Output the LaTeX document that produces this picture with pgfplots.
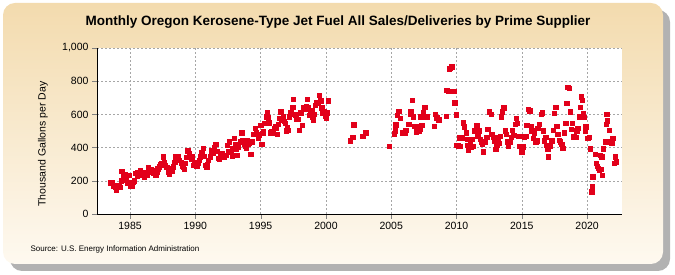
\documentclass[border=0pt]{standalone}
\usepackage{fontspec}
\setmainfont{Liberation Sans}
\usepackage{pgfplots}
\pgfplotsset{compat=1.18}

\definecolor{ptred}{RGB}{226,0,26}
\definecolor{bgtop}{RGB}{243,219,174}
\definecolor{bgbot}{RGB}{254,249,240}

\begin{document}
\begin{tikzpicture}[x=1pt,y=1pt]
\useasboundingbox (0,0) rectangle (675,275);
% frame with shadow
\fill[black!30, rounded corners=12pt] (10,4) rectangle (670,265);
\shade[top color=bgtop, bottom color=bgbot, rounded corners=12pt] (3,11) rectangle (663,272);

\node[font=\bfseries\fontsize{13.5}{15}\selectfont] at (338,253)
  {Monthly Oregon Kerosene-Type Jet Fuel All Sales/Deliveries by Prime Supplier};
\node[rotate=90, font=\fontsize{10.5}{12}\selectfont] at (43,131) {Thousand Gallons per Day};
\node[anchor=west, font=\fontsize{8}{10}\selectfont] at (27,26)
  {Source: U.S. Energy Information Administration};

\begin{axis}[
    at={(97pt,61pt)}, anchor=south west,
    scale only axis,
    width=525pt, height=166pt,
    xmin=1982.47, xmax=2022.67,
    ymin=0, ymax=1000,
    xtick={1985,1990,1995,2000,2005,2010,2015,2020},
    ytick={0,200,400,600,800,1000},
    x tick label style={/pgf/number format/1000 sep={}},
    y tick label style={/pgf/number format/1000 sep={,}},
    /pgf/number format/assume math mode=true,
    tick label style={font=\fontsize{10.5}{12}\selectfont},
    axis x line=bottom, axis y line=left,
    axis line style={-},
    tick align=outside,
    major tick length=5pt,
    grid=major,
    grid style={gray!70, dash pattern=on 2pt off 2pt},
    axis background/.style={fill=white},
    clip=false,
]
\addplot[only marks, mark=square*, mark size=2.1pt, color=ptred] table {
1983.47 189
1983.56 185
1983.64 189
1983.75 170
1983.85 161
1983.92 145
1984.05 175
1984.16 169
1984.23 161
1984.30 200
1984.36 259
1984.45 230
1984.54 215
1984.62 241
1984.72 205
1984.82 189
1984.92 233
1985.00 169
1985.08 181
1985.18 169
1985.25 190
1985.33 201
1985.44 245
1985.52 230
1985.59 253
1985.68 240
1985.77 261
1985.90 233
1986.02 241
1986.09 225
1986.18 250
1986.28 233
1986.40 281
1986.50 262
1986.61 269
1986.71 253
1986.80 245
1986.86 261
1986.97 233
1987.05 250
1987.12 273
1987.22 285
1987.30 297
1987.43 305
1987.55 345
1987.62 310
1987.68 293
1987.81 281
1987.93 253
1988.00 240
1988.06 265
1988.19 273
1988.25 260
1988.32 285
1988.42 310
1988.50 345
1988.58 330
1988.65 345
1988.75 325
1988.91 309
1989.00 290
1989.08 285
1989.15 270
1989.21 305
1989.32 340
1989.42 381
1989.52 365
1989.62 345
1989.70 330
1989.77 345
1989.88 293
1989.95 310
1990.03 305
1990.10 290
1990.18 305
1990.28 325
1990.38 345
1990.49 369
1990.61 396
1990.67 350
1990.74 295
1990.87 281
1990.93 300
1991.00 325
1991.13 345
1991.20 370
1991.26 386
1991.38 365
1991.47 400
1991.56 422
1991.64 380
1991.72 335
1991.80 330
1991.89 349
1991.95 340
1992.02 365
1992.14 355
1992.20 341
1992.35 355
1992.45 416
1992.53 380
1992.60 436
1992.71 375
1992.80 350
1992.86 396
1992.96 456
1993.05 420
1993.12 390
1993.17 355
1993.29 402
1993.42 436
1993.55 490
1993.63 446
1993.73 422
1993.80 410
1993.88 396
1993.98 446
1994.06 420
1994.13 430
1994.24 361
1994.32 436
1994.44 482
1994.57 516
1994.65 490
1994.75 482
1994.82 460
1994.90 476
1995.01 536
1995.08 422
1995.16 486
1995.22 500
1995.28 546
1995.41 586
1995.51 610
1995.60 580
1995.67 550
1995.77 490
1995.85 500
1995.93 486
1996.03 516
1996.10 530
1996.18 516
1996.28 482
1996.35 540
1996.43 576
1996.54 616
1996.62 566
1996.74 586
1996.80 560
1996.87 546
1996.94 502
1997.04 520
1997.12 506
1997.20 586
1997.30 610
1997.38 600
1997.46 643
1997.50 691
1997.63 596
1997.70 600
1997.76 570
1997.89 570
1997.96 506
1998.07 610
1998.17 536
1998.27 643
1998.40 631
1998.48 651
1998.58 691
1998.66 640
1998.73 596
1998.84 610
1998.91 622
1998.99 586
1999.04 566
1999.10 600
1999.17 657
1999.30 671
1999.42 667
1999.50 717
1999.60 683
1999.68 640
1999.75 610
1999.85 616
1999.93 590
2000.00 576
2000.11 610
2000.18 683
2001.85 442
2002.05 464
2002.13 538
2002.82 470
2003.05 490
2004.83 410
2005.21 484
2005.28 502
2005.34 538
2005.47 595
2005.57 620
2005.67 578
2005.83 490
2006.06 490
2006.11 506
2006.31 542
2006.39 542
2006.44 602
2006.49 620
2006.59 687
2006.67 586
2006.75 530
2006.90 496
2006.93 530
2007.13 502
2007.20 510
2007.26 586
2007.33 536
2007.43 614
2007.56 644
2007.69 586
2007.76 586
2008.28 530
2008.35 600
2008.48 580
2008.64 568
2009.20 590
2009.25 747
2009.37 741
2009.43 875
2009.50 880
2009.63 887
2009.79 741
2009.86 671
2009.96 598
2010.02 416
2010.10 412
2010.21 460
2010.27 410
2010.42 460
2010.52 550
2010.57 526
2010.73 490
2010.80 450
2010.86 416
2010.90 386
2011.03 436
2011.11 405
2011.21 450
2011.29 410
2011.36 502
2011.47 502
2011.55 536
2011.62 470
2011.72 502
2011.80 450
2011.88 436
2011.98 422
2012.05 375
2012.18 436
2012.31 462
2012.39 512
2012.49 616
2012.64 602
2012.70 482
2012.82 462
2012.89 442
2013.00 390
2013.08 416
2013.15 450
2013.20 462
2013.28 426
2013.35 470
2013.41 586
2013.51 616
2013.61 640
2013.71 502
2013.79 482
2013.89 436
2013.97 410
2014.10 436
2014.17 462
2014.27 506
2014.38 476
2014.48 542
2014.56 576
2014.63 546
2014.73 470
2014.81 410
2014.94 470
2014.99 375
2015.12 405
2015.19 462
2015.30 470
2015.38 536
2015.50 631
2015.60 622
2015.70 530
2015.76 502
2015.88 456
2015.96 486
2016.06 436
2016.14 442
2016.22 516
2016.32 542
2016.47 602
2016.57 610
2016.65 502
2016.72 442
2016.83 462
2016.91 416
2016.98 390
2017.03 345
2017.16 410
2017.29 442
2017.39 506
2017.49 606
2017.60 643
2017.67 530
2017.75 482
2017.85 446
2017.92 436
2018.06 422
2018.13 396
2018.25 490
2018.36 546
2018.44 667
2018.51 763
2018.61 759
2018.69 616
2018.77 510
2018.87 546
2018.97 466
2019.13 462
2019.20 502
2019.28 516
2019.38 586
2019.46 643
2019.53 707
2019.63 687
2019.71 606
2019.79 582
2019.84 502
2019.89 526
2020.05 456
2020.09 456
2020.17 462
2020.22 393
2020.35 134
2020.40 165
2020.43 225
2020.60 361
2020.68 305
2020.78 289
2020.86 275
2020.93 265
2020.99 355
2021.06 269
2021.12 345
2021.18 235
2021.24 393
2021.37 436
2021.45 542
2021.50 602
2021.55 562
2021.70 506
2021.75 436
2021.88 426
2021.96 456
2022.06 305
2022.14 345
2022.21 315
};
\end{axis}
\end{tikzpicture}
\end{document}
